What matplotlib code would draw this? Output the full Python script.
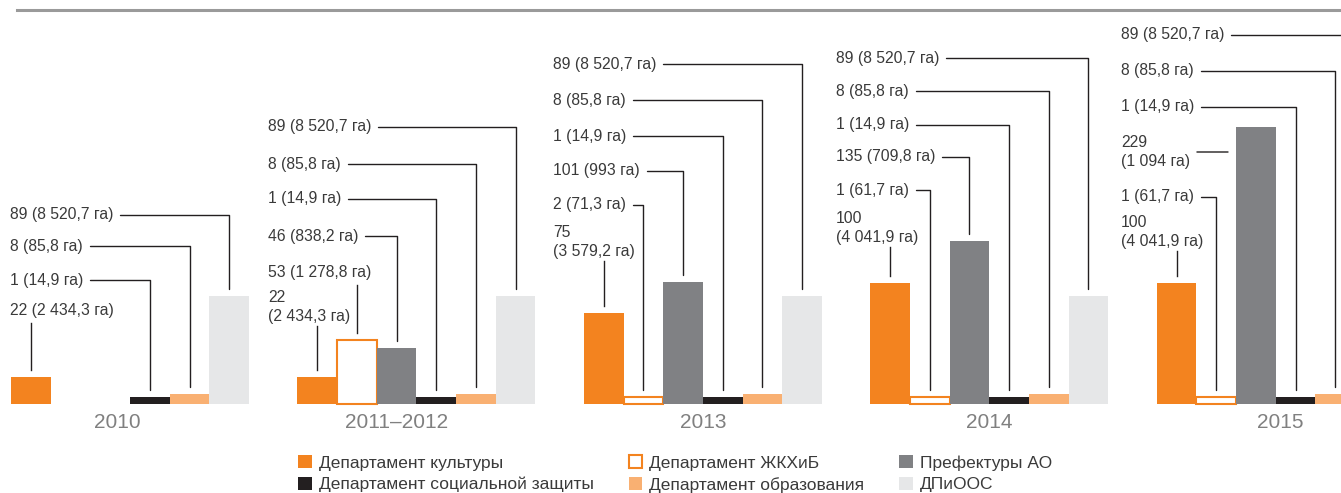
import numpy as np
import matplotlib.pyplot as plt
from matplotlib.lines import Line2D
from matplotlib.patches import Patch

plt.rcParams['font.family'] = ['Liberation Sans', 'DejaVu Sans']

# data
years = ['2010', '2011–2012', '2013', '2014', '2015']
series = ['Департамент культуры', 'Департамент ЖКХиБ', 'Префектуры АО',
          'Департамент социальной защиты', 'Департамент образования', 'ДПиООС']
culture = [22, 22, 75, 100, 100]
zhkh = [np.nan, 53, 2, 1, 1]
pref = [np.nan, 46, 101, 135, 229]
social = [1, 1, 1, 1, 1]
edu = [8, 8, 8, 8, 8]
dpioos = [89, 89, 89, 89, 89]
culture_ha = ['2 434,3', '2 434,3', '3 579,2', '4 041,9', '4 041,9']
zhkh_ha = [None, '1 278,8', '71,3', '61,7', '61,7']
pref_ha = [None, '838,2', '993', '709,8', '1 094']
social_ha = ['14,9'] * 5
edu_ha = ['85,8'] * 5
dpioos_ha = ['8 520,7'] * 5

values = [culture, zhkh, pref, social, edu, dpioos]
areas = [culture_ha, zhkh_ha, pref_ha, social_ha, edu_ha, dpioos_ha]

# styles
ORANGE = '#F3831F'
colors = [ORANGE, 'white', '#808184', '#231F20', '#F9B072', '#E6E7E8']
edges = [ORANGE, ORANGE, '#808184', '#231F20', '#F9B072', '#E6E7E8']
LINE = '#231F20'
TEXT = '#3a3a3a'

# layout (pixels of the 1341x493 picture)
W, H = 1341, 493
BAR_PX, X0, BASE, PXU = 39.67, 11, 404, 1.21
STEP = 7.22
GAP = 7 / PXU
MIN_H = 5.5


def ux(p):
    return (p - X0) / BAR_PX


def uy(p):
    return (BASE - p) / PXU


rows = [
    [311, None, None, 280, 246, 215],
    [307, 273, 236, 199, 164, 127],
    [242, 205, 171, 136, 100, 64],
    [228, 190, 157, 125, 91, 58],
    [232, 197, 152, 107, 71, 35],
]
label_x = [10, 268, 553, 836, 1121]
year_dx = [-0.33, -0.5, 0, 0, 0.12]
two_line = {(1, 0), (2, 0), (3, 0), (4, 0), (4, 2)}
vertical = {(0, 0), (1, 0), (2, 0), (3, 0), (4, 0), (1, 1)}
stub = {(4, 2)}

fig = plt.figure(figsize=(W / 100, H / 100), dpi=100)
ax = fig.add_axes([0, 0, 1, 1])
ax.set_xlim(ux(0), ux(W))
ax.set_ylim(uy(H), uy(0))
ax.axis('off')

groups = np.arange(len(years)) * STEP

for j, vals in enumerate(values):
    vals = np.array(vals, dtype=float)
    ok = ~np.isnan(vals)
    shown = np.maximum(vals, MIN_H)
    x = groups + j + 0.5
    lw = 1.5 if j == 1 else 0
    ax.bar(x[ok], shown[ok], width=1, align='center', color=colors[j],
           edgecolor=edges[j], linewidth=lw)

# leader labels
for g in range(len(years)):
    for j, vals in enumerate(values):
        v = vals[g]
        if np.isnan(v):
            continue
        ha_txt = areas[j][g]
        sep = '\n' if (g, j) in two_line else ' '
        label = f'{int(v)}{sep}({ha_txt} га)'
        ly = uy(rows[g][j])
        lx = ux(label_x[g])
        xc = groups[g] + j + 0.5
        top = max(v, MIN_H) + GAP
        if (g, j) in vertical:
            ax.text(lx, ly, label, ha='left', va='center', fontsize=11.3,
                    color=TEXT, linespacing=1.3)
            y0 = rows[g][j] + (19 if (g, j) in two_line else 12)
            ax.plot([xc, xc], [uy(y0), top], color=LINE, lw=1.0)
        elif (g, j) in stub:
            ax.annotate(label, xy=(groups[g] + j - 8 / BAR_PX, ly), xytext=(lx, ly),
                        ha='left', va='center', fontsize=11.3, color=TEXT,
                        linespacing=1.3,
                        arrowprops=dict(arrowstyle='-', color=LINE, lw=1.0,
                                        shrinkA=3, shrinkB=0))
        else:
            ax.annotate(label, xy=(xc, top), xytext=(lx, ly),
                        ha='left', va='center', fontsize=11.3, color=TEXT,
                        linespacing=1.3, annotation_clip=False,
                        arrowprops=dict(arrowstyle='-', color=LINE, lw=1.0,
                                        shrinkA=3, shrinkB=0,
                                        connectionstyle='angle,angleA=0,angleB=90,rad=0'))

# year labels
for g, y in enumerate(years):
    ax.text(groups[g] + 3 + year_dx[g], uy(423), y, ha='center', va='center',
            fontsize=15, color='#808080')

# top rule
fig.add_artist(Line2D([17 / W, 1], [1 - 10 / H] * 2, color='#9a9a9a', lw=2.2))

# legend
order = [0, 3, 1, 4, 2, 5]
handles = [Patch(facecolor=colors[k], edgecolor=edges[k], linewidth=1.5 if k == 1 else 0,
                 label=series[k]) for k in order]
fig.legend(handles=handles, ncol=3, loc='upper left',
           bbox_to_anchor=(298 / W, 1 - 455 / H), frameon=False,
           fontsize=12.5, handlelength=0.78, handleheight=0.78,
           handletextpad=0.42, columnspacing=2.0, labelspacing=0.36,
           borderpad=0, borderaxespad=0, labelcolor=TEXT)

fig.savefig('out.png', dpi=100)
